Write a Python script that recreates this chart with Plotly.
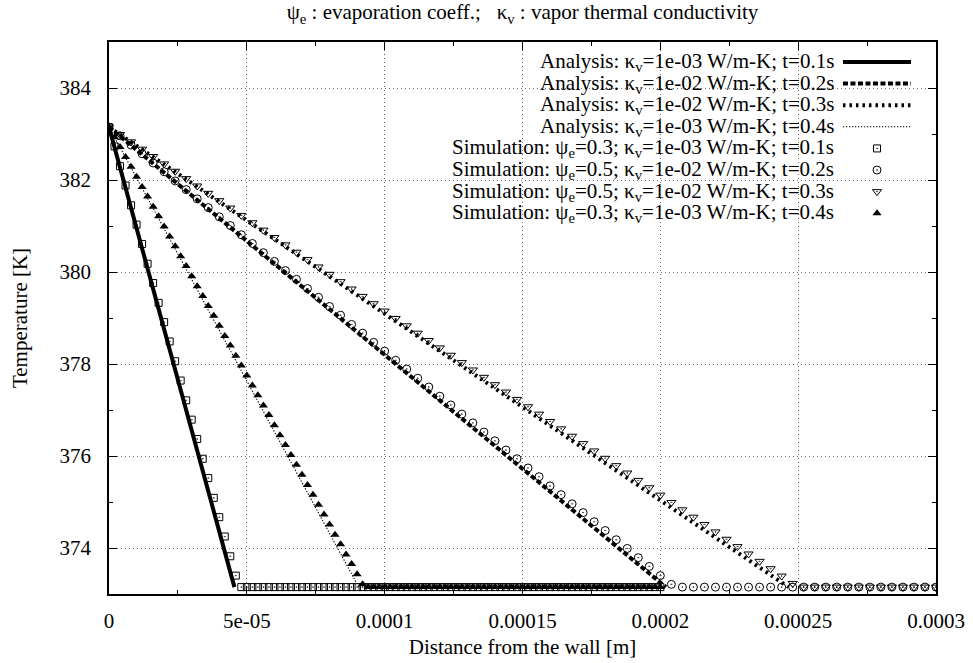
import numpy as np
import plotly.graph_objects as go

# ---------------------------------------------------------------- data
# wall temperature and saturation temperature [K]
T_WALL = 383.15
T_SAT = 373.15

# analytical profiles: linear drop from the wall to T_SAT at x_knee [m]
ana_labels = [
    "Analysis: κ<sub>v</sub>=1e-03 W/m-K; t=0.1s",
    "Analysis: κ<sub>v</sub>=1e-02 W/m-K; t=0.2s",
    "Analysis: κ<sub>v</sub>=1e-02 W/m-K; t=0.3s",
    "Analysis: κ<sub>v</sub>=1e-03 W/m-K; t=0.4s",
]
ana_x_knee = [4.55e-5, 2.02e-4, 2.465e-4, 9.06e-5]

# simulation sampling grids [m]
x_fine = np.round(np.arange(101) * 2e-6, 10)    # 0 .. 2e-4
x_coarse = np.round(np.arange(76) * 4e-6, 10)   # 0 .. 3e-4

sim_labels = [
    "Simulation: ψ<sub>e</sub>=0.3; κ<sub>v</sub>=1e-03 W/m-K; t=0.1s",
    "Simulation: ψ<sub>e</sub>=0.5; κ<sub>v</sub>=1e-02 W/m-K; t=0.2s",
    "Simulation: ψ<sub>e</sub>=0.5; κ<sub>v</sub>=1e-02 W/m-K; t=0.3s",
    "Simulation: ψ<sub>e</sub>=0.3; κ<sub>v</sub>=1e-03 W/m-K; t=0.4s",
]

T_sim_01 = [383.15, 382.73, 382.30, 381.88, 381.45, 381.03, 380.61, 380.18,
            379.76, 379.33, 378.91, 378.49, 378.06, 377.64, 377.21, 376.79,
            376.37, 375.94, 375.52, 375.09, 374.67, 374.25, 373.82, 373.40] + [373.15] * 77

T_sim_02 = [383.15, 382.96, 382.76, 382.57, 382.37, 382.18, 381.98, 381.79,
            381.59, 381.40, 381.20, 381.01, 380.81, 380.62, 380.42, 380.23,
            380.03, 379.84, 379.64, 379.45, 379.25, 379.06, 378.86, 378.67,
            378.47, 378.28, 378.08, 377.89, 377.69, 377.50, 377.30, 377.11,
            376.91, 376.72, 376.52, 376.33, 376.13, 375.94, 375.74, 375.55,
            375.35, 375.16, 374.96, 374.77, 374.57, 374.38, 374.18, 373.99,
            373.79, 373.60, 373.40, 373.21] + [373.15] * 24

T_sim_03 = [383.15, 382.99, 382.83, 382.67, 382.51, 382.35, 382.19, 382.03,
            381.87, 381.71, 381.55, 381.39, 381.23, 381.07, 380.91, 380.75,
            380.59, 380.43, 380.27, 380.11, 379.95, 379.79, 379.63, 379.47,
            379.31, 379.15, 378.99, 378.83, 378.67, 378.51, 378.35, 378.19,
            378.03, 377.87, 377.71, 377.55, 377.39, 377.23, 377.07, 376.91,
            376.75, 376.59, 376.43, 376.27, 376.11, 375.95, 375.79, 375.63,
            375.47, 375.31, 375.15, 374.99, 374.83, 374.67, 374.51, 374.35,
            374.19, 374.03, 373.87, 373.71, 373.55, 373.39, 373.23] + [373.15] * 13

T_sim_04 = [383.15, 382.93, 382.72, 382.50, 382.29, 382.07, 381.85, 381.64,
            381.42, 381.21, 380.99, 380.77, 380.56, 380.34, 380.13, 379.91,
            379.69, 379.48, 379.26, 379.05, 378.83, 378.61, 378.40, 378.18,
            377.97, 377.75, 377.53, 377.32, 377.10, 376.89, 376.67, 376.45,
            376.24, 376.02, 375.81, 375.59, 375.37, 375.16, 374.94, 374.73,
            374.51, 374.29, 374.08, 373.86, 373.65, 373.43, 373.21] + [373.15] * 54

sim_x = [x_fine, x_coarse, x_coarse, x_fine]
sim_T = [T_sim_01, T_sim_02, T_sim_03, T_sim_04]

x_tickvals = [0, 5e-5, 1e-4, 1.5e-4, 2e-4, 2.5e-4, 3e-4]
x_ticktext = ["0", "5e-05", "0.0001", "0.00015", "0.0002", "0.00025", "0.0003"]
y_tickvals = [374, 376, 378, 380, 382, 384]
y_ticktext = ["374", "376", "378", "380", "382", "384"]

# ---------------------------------------------------------------- styles
FONT = "Liberation Serif, Times New Roman, serif"
FS = 21
ana_styles = [
    dict(color="black", width=4, dash="solid"),
    dict(color="black", width=4, dash="5px,2.5px"),
    dict(color="black", width=4, dash="2.5px,4px"),
    dict(color="black", width=1.1, dash="1.3px,1.7px"),
]
sim_markers = [
    dict(symbol="square-open-dot", size=7, color="black", line=dict(width=1, color="black")),
    dict(symbol="circle-open-dot", size=8, color="black", line=dict(width=1, color="black")),
    dict(symbol="triangle-down-open-dot", size=8, color="black", line=dict(width=1, color="black")),
    dict(symbol="triangle-up", size=8, color="black", line=dict(width=0, color="black")),
]

fig = go.Figure()

for xk, st in zip(ana_x_knee, ana_styles):
    fig.add_trace(go.Scatter(x=[0, xk], y=[T_WALL, T_SAT], mode="lines",
                             line=st, showlegend=False, hoverinfo="skip"))

for xs, ts, mk in zip(sim_x, sim_T, sim_markers):
    fig.add_trace(go.Scatter(x=xs, y=ts, mode="markers", marker=mk,
                             showlegend=False, cliponaxis=True))

# ---------------------------------------------------------------- key
# key rows in plot-fraction coordinates (overlay axes x2/y2 span 0..1)
row_y0 = 0.9638
row_dy = 0.03915
text_x = 0.879
samp_x0, samp_x1, mark_x = 0.8875, 0.9698, 0.9287

labels = ana_labels + sim_labels
for i, lab in enumerate(labels):
    ry = row_y0 - i * row_dy
    fig.add_annotation(x=text_x, y=ry, xref="paper", yref="paper", text=lab,
                       showarrow=False, xanchor="right", yanchor="middle",
                       font=dict(family=FONT, size=FS, color="black"))
    if i < 4:
        fig.add_trace(go.Scatter(x=[samp_x0, samp_x1], y=[ry, ry], mode="lines",
                                 line=ana_styles[i], xaxis="x2", yaxis="y2",
                                 showlegend=False, hoverinfo="skip"))
    else:
        fig.add_trace(go.Scatter(x=[mark_x], y=[ry], mode="markers",
                                 marker=sim_markers[i - 4], xaxis="x2", yaxis="y2",
                                 showlegend=False, hoverinfo="skip"))

# opaque key background hides the grid behind it
fig.add_shape(type="rect", xref="paper", yref="paper", x0=0.231, x1=1.0, y0=0.668, y1=1.0,
              fillcolor="white", line=dict(width=0), layer="between")

axis_common = dict(
    showline=True, linecolor="black", linewidth=1.5, mirror="allticks",
    ticks="inside", ticklen=8, tickwidth=1, tickcolor="black",
    showgrid=True, gridcolor="#6a6a6a", gridwidth=1, griddash="1px,3px",
    zeroline=False, tickfont=dict(family=FONT, size=FS, color="black"),
)

fig.update_layout(
    width=973, height=663,
    paper_bgcolor="white", plot_bgcolor="white",
    margin=dict(l=109, r=37, t=42, b=69, autoexpand=False),
    font=dict(family=FONT, size=FS, color="black"),
    title=dict(
        text="ψ<sub>e</sub> : evaporation coeff.;\u00a0\u00a0\u00a0κ<sub>v</sub> : vapor thermal conductivity",
        x=109 / 973 + 827 / 973 / 2, xanchor="center", y=1 - 12 / 663, yanchor="middle",
        yref="container", font=dict(family=FONT, size=FS, color="black")),
    xaxis=dict(range=[0, 3e-4], tickvals=x_tickvals, ticktext=x_ticktext,
               minor=dict(ticks="inside", ticklen=4, dtick=2.5e-5, tick0=0, showgrid=False,
                          tickcolor="black"),
               ticklabelstandoff=7,
               title=dict(text="Distance from the wall [m]", standoff=7,
                          font=dict(family=FONT, size=FS)),
               **axis_common),
    yaxis=dict(range=[373, 385], tickvals=y_tickvals, ticktext=y_ticktext,
               minor=dict(ticks="inside", ticklen=4, dtick=1, tick0=373, showgrid=False,
                          tickcolor="black"),
               ticklabelstandoff=12,
               title=dict(text="Temperature [K]", standoff=26,
                          font=dict(family=FONT, size=FS)),
               **axis_common),
    xaxis2=dict(range=[0, 1], overlaying="x", visible=False, showgrid=False),
    yaxis2=dict(range=[0, 1], overlaying="y", visible=False, showgrid=False),
    showlegend=False,
)

fig.write_html("out.html")
